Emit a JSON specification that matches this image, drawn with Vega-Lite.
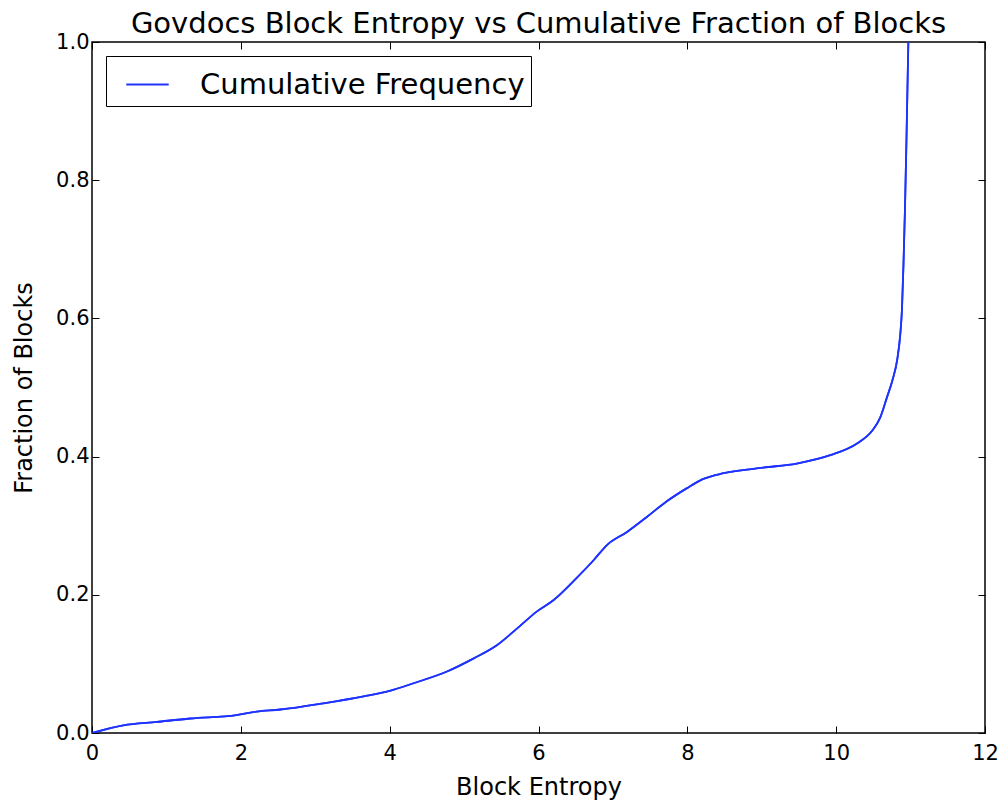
{
  "$schema": "https://vega.github.io/schema/vega-lite/v6.json",
  "width": 893,
  "height": 691,
  "autosize": {"type": "none"},
  "padding": {"left": 92, "top": 42, "right": 18, "bottom": 73},
  "background": "white",
  "config": {
    "font": "DejaVu Sans",
    "view": {"stroke": "black", "strokeWidth": 1.5},
    "axis": {"grid": false, "domain": false, "labelFont": "DejaVu Sans", "titleFont": "DejaVu Sans", "labelFontSize": 21, "titleFontSize": 24, "titleFontWeight": "normal", "labelColor": "black", "titleColor": "black", "tickColor": "black", "tickWidth": 1, "tickSize": -7, "labelFlush": false, "labelOverlap": false}
  },
  "title": {"text": "Govdocs Block Entropy vs Cumulative Fraction of Blocks", "fontSize": 29, "fontWeight": "normal", "font": "DejaVu Sans", "color": "black", "anchor": "middle", "offset": -8},
  "data": {"values": [
    {"x": 0, "y": 0, "s": "Cumulative Frequency"},
    {"x": 0.42, "y": 0.011, "s": "Cumulative Frequency"},
    {"x": 0.87, "y": 0.016, "s": "Cumulative Frequency"},
    {"x": 1.32, "y": 0.021, "s": "Cumulative Frequency"},
    {"x": 1.94, "y": 0.026, "s": "Cumulative Frequency"},
    {"x": 2.21, "y": 0.031, "s": "Cumulative Frequency"},
    {"x": 2.53, "y": 0.034, "s": "Cumulative Frequency"},
    {"x": 3.11, "y": 0.043, "s": "Cumulative Frequency"},
    {"x": 3.65, "y": 0.053, "s": "Cumulative Frequency"},
    {"x": 4.0, "y": 0.061, "s": "Cumulative Frequency"},
    {"x": 4.32, "y": 0.072, "s": "Cumulative Frequency"},
    {"x": 4.77, "y": 0.089, "s": "Cumulative Frequency"},
    {"x": 5.13, "y": 0.108, "s": "Cumulative Frequency"},
    {"x": 5.44, "y": 0.127, "s": "Cumulative Frequency"},
    {"x": 5.71, "y": 0.151, "s": "Cumulative Frequency"},
    {"x": 5.98, "y": 0.176, "s": "Cumulative Frequency"},
    {"x": 6.2, "y": 0.192, "s": "Cumulative Frequency"},
    {"x": 6.51, "y": 0.224, "s": "Cumulative Frequency"},
    {"x": 6.74, "y": 0.25, "s": "Cumulative Frequency"},
    {"x": 6.92, "y": 0.272, "s": "Cumulative Frequency"},
    {"x": 7.19, "y": 0.291, "s": "Cumulative Frequency"},
    {"x": 7.46, "y": 0.313, "s": "Cumulative Frequency"},
    {"x": 7.72, "y": 0.335, "s": "Cumulative Frequency"},
    {"x": 7.99, "y": 0.354, "s": "Cumulative Frequency"},
    {"x": 8.2, "y": 0.367, "s": "Cumulative Frequency"},
    {"x": 8.49, "y": 0.376, "s": "Cumulative Frequency"},
    {"x": 9.02, "y": 0.384, "s": "Cumulative Frequency"},
    {"x": 9.47, "y": 0.39, "s": "Cumulative Frequency"},
    {"x": 9.92, "y": 0.402, "s": "Cumulative Frequency"},
    {"x": 10.28, "y": 0.419, "s": "Cumulative Frequency"},
    {"x": 10.48, "y": 0.437, "s": "Cumulative Frequency"},
    {"x": 10.59, "y": 0.456, "s": "Cumulative Frequency"},
    {"x": 10.68, "y": 0.485, "s": "Cumulative Frequency"},
    {"x": 10.76, "y": 0.512, "s": "Cumulative Frequency"},
    {"x": 10.82, "y": 0.54, "s": "Cumulative Frequency"},
    {"x": 10.86, "y": 0.575, "s": "Cumulative Frequency"},
    {"x": 10.885, "y": 0.615, "s": "Cumulative Frequency"},
    {"x": 10.905, "y": 0.68, "s": "Cumulative Frequency"},
    {"x": 10.925, "y": 0.76, "s": "Cumulative Frequency"},
    {"x": 10.945, "y": 0.86, "s": "Cumulative Frequency"},
    {"x": 10.97, "y": 1.0, "s": "Cumulative Frequency"}
  ]},
  "layer": [
    {
      "mark": {"type": "line", "strokeWidth": 1.8, "clip": true, "interpolate": "monotone"},
      "encoding": {
        "x": {"field": "x", "type": "quantitative", "scale": {"domain": [0, 12], "nice": false, "zero": false}, "axis": {"title": "Block Entropy", "values": [0, 2, 4, 6, 8, 10, 12], "labelPadding": 16, "titlePadding": 12}},
        "y": {"field": "y", "type": "quantitative", "scale": {"domain": [0, 1], "nice": false}, "axis": {"title": "Fraction of Blocks", "values": [0, 0.2, 0.4, 0.6, 0.8, 1.0], "format": ".1f", "labelPadding": 10, "titlePadding": 19}},
        "color": {"field": "s", "type": "nominal", "scale": {"range": ["#1f33ff"]}, "legend": {"title": null, "orient": "top-left", "offset": 14, "symbolType": "stroke", "symbolSize": 1800, "symbolStrokeWidth": 1.8, "symbolOffset": 13, "labelFontSize": 29, "labelFont": "DejaVu Sans", "labelColor": "black", "labelOffset": 30, "labelLimit": 0, "padding": 6, "strokeColor": "black", "fillColor": "white"}},
        "order": {"field": "x", "type": "quantitative"}
      }
    },
    {
      "mark": {"type": "line", "strokeWidth": 1.8, "clip": true, "color": "#1f33ff", "interpolate": "monotone"},
      "encoding": {
        "x": {"field": "x", "type": "quantitative", "scale": {"domain": [0, 12], "nice": false, "zero": false}, "axis": {"orient": "top", "title": null, "labels": false, "values": [0, 2, 4, 6, 8, 10, 12]}},
        "y": {"field": "y", "type": "quantitative", "scale": {"domain": [0, 1], "nice": false}, "axis": {"orient": "right", "title": null, "labels": false, "values": [0, 0.2, 0.4, 0.6, 0.8, 1.0]}},
        "order": {"field": "x", "type": "quantitative"}
      }
    }
  ],
  "resolve": {"axis": {"x": "independent", "y": "independent"}}
}
